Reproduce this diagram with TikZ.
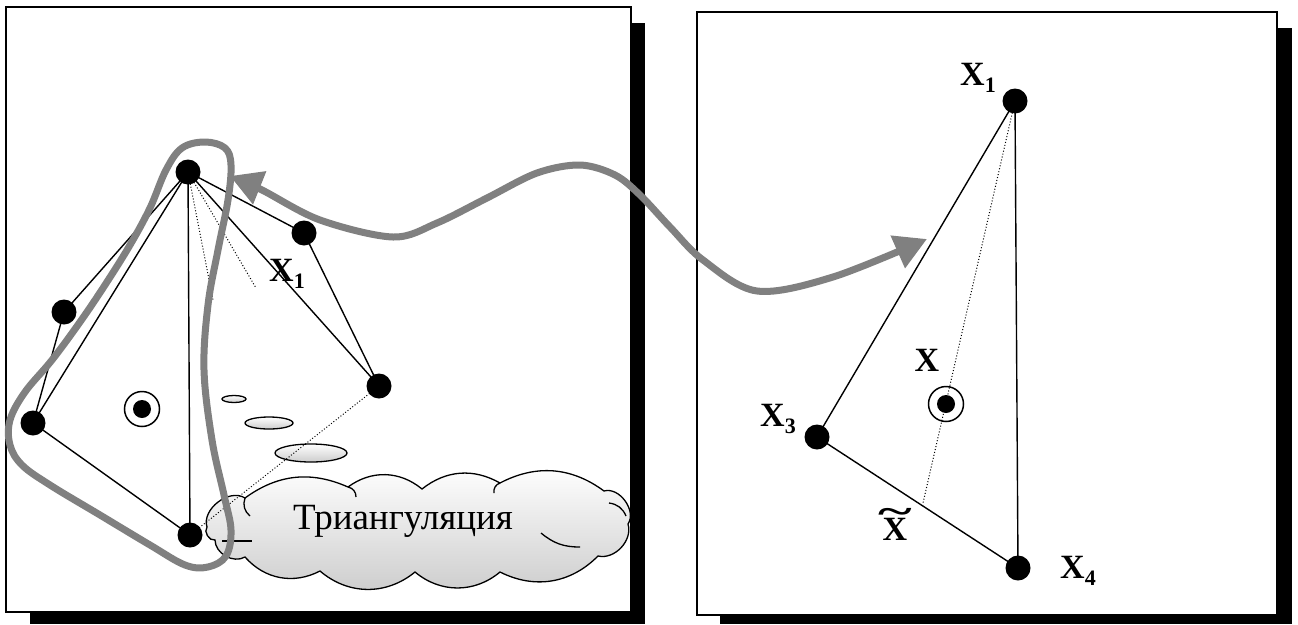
\documentclass[tikz,border=0pt]{standalone}
\usepackage{graphicx}
\usepackage{fontspec}
\setmainfont{Liberation Serif}
\usetikzlibrary{shapes.geometric,arrows.meta}

% bold X with a lowered subscript digit
\newcommand{\xsub}[1]{X\raisebox{-7pt}{\fontsize{22}{22}\selectfont #1}}
% bold X with a wide tilde above it
\newcommand{\xtilde}{\ooalign{X\cr\hidewidth\raisebox{0.5em}{\scalebox{1.9}[1.05]{\char"7E}}\hidewidth\cr}}

\tikzset{
  panel/.style={draw=black, line width=1.8pt, fill=white},
  panelshadow/.style={fill=black},
  vertex/.style={circle, fill=black, minimum size=25pt, inner sep=0pt},
  ring/.style={circle, draw=black, line width=1.5pt, minimum size=35pt, inner sep=0pt},
  core/.style={circle, fill=black, minimum size=18pt, inner sep=0pt},
  edge/.style={draw=black, line width=1.4pt},
  dotline/.style={draw=black, line width=1pt, dash pattern=on 1pt off 2pt},
  xlabel/.style={font=\fontsize{34}{34}\selectfont\bfseries, inner sep=0pt},
  bubble/.style={draw=black, line width=1.3pt, top color=white, bottom color=black!20},
  curl/.style={draw=black, line width=1.3pt},
  link/.style={draw=black!50, line width=7pt},
  hull/.style={draw=black!50, line width=7pt, line join=round},
}

\begin{document}
\begin{tikzpicture}[x=1pt, y=-1pt]
\useasboundingbox (0,0) rectangle (1298,624);

% panels with drop shadows
\fill[panelshadow] (30,23) rectangle (645,624);
\draw[panel] (6,7) rectangle (631,612);
\fill[panelshadow] (720,28) rectangle (1292,624);
\draw[panel] (697,12) rectangle (1277,615);

% thought bubbles
\node[bubble, ellipse, minimum width=24pt, minimum height=7pt, inner sep=0pt] (b1) at (234,399) {};
\node[bubble, ellipse, minimum width=48pt, minimum height=12pt, inner sep=0pt] (b2) at (269,423) {};
\node[bubble, ellipse, minimum width=72pt, minimum height=18pt, inner sep=0pt] (b3) at (311,453) {};

% cloud built from puffs
\path[bubble] (207,527)
  to[bend left=70] (245,498)
  to[bend left=30] (348,487)
  to[bend left=38] (422,489)
  to[bend left=34] (500,483)
  to[bend left=32] (604,491)
  to[bend left=70] (628,524)
  to[bend left=60] (598,556)
  to[bend left=36] (500,572)
  to[bend left=40] (415,572)
  to[bend left=40] (320,571)
  to[bend left=38] (245,557)
  to[bend left=60] (215,540)
  to[bend left=70] cycle;
% inner curls of the cloud
\draw[curl] (245,498) to[bend right=35] (250,516);
\draw[curl] (222,541) to (252,541);
\draw[curl] (348,487) to[bend left=40] (356,497);
\draw[curl] (500,483) to[bend right=40] (494,493);
\draw[curl] (541,533) to[bend right=20] (580,547);
\draw[curl] (609,503) to[bend left=30] (626,516);
\node[font=\fontsize{37}{37}\selectfont, inner sep=0pt] (cloudtext) at (403,521) {Триангуляция};

% left panel: triangulated point set
\node[vertex] (A) at (188,172) {};
\node[vertex] (B) at (304,233) {};
\node[vertex] (C) at (379,386) {};
\node[vertex] (D) at (64,312) {};
\node[vertex] (E) at (33,423) {};
\node[vertex] (F) at (190,535) {};
\coordinate (ray1) at (213,300);
\coordinate (ray2) at (256,288);

\draw[edge] (A.center) -- (D.center);
\draw[edge] (A.center) -- (E.center);
\draw[edge] (A.center) -- (F.center);
\draw[edge] (A.center) -- (B.center);
\draw[edge] (A.center) -- (C.center);
\draw[edge] (B.center) -- (C.center);
\draw[edge] (D.center) -- (E.center);
\draw[edge] (E.center) -- (F.center);
\draw[dotline] (A.center) -- (ray1);
\draw[dotline] (A.center) -- (ray2);
\draw[dotline] (C.center) -- (F.center);

\node[ring] (ql) at (142,409) {};
\node[core] (qlc) at (ql) {};
\node[xlabel] (lx1) at (287,274) {\xsub{1}};

% right panel: the selected triangle
\node[vertex] (X1) at (1015,101) {};
\node[vertex] (X3) at (817,437) {};
\node[vertex] (X4) at (1018,568) {};
\coordinate (Xt) at (923,503);
\draw[edge] (X1.center) -- (X3.center);
\draw[edge] (X1.center) -- (X4.center);
\draw[edge] (X3.center) -- (X4.center);
\draw[dotline] (X1.center) -- (Xt);
\node[ring] (qr) at (946,404) {};
\node[core] (qrc) at (qr) {};

\node[xlabel] (rx1) at (978,78) {\xsub{1}};
\node[xlabel] (rx) at (927,360) {X};
\node[xlabel] (rx3) at (778,419) {\xsub{3}};
\node[xlabel] (rxt) at (895,529) {\xtilde};
\node[xlabel] (rx4) at (1078,571) {\xsub{4}};

% link between the panels
\coordinate (linkL) at (230,176);
\coordinate (linkR) at (927,239);
\draw[link, {Triangle[length=32pt, width=34pt]}-{Triangle[length=32pt, width=34pt]}]
  plot[smooth, tension=0.55] coordinates {(linkL) (262,190) (320,220) (393,237) (437,223)
    (487,198) (537,173) (580,165) (615,175) (640,195) (670,227) (703,260) (757,291)
    (833,277) (linkR)};

% outline around the chosen triangle
\draw[hull] plot[smooth cycle, tension=0.6] coordinates {
  (205,142) (225,148) (231,165) (228,200) (218,250) (208,305) (204,370) (212,440)
  (224,495) (231,530) (226,556) (208,567) (185,565) (150,545) (100,515) (50,485)
  (22,465) (10,445) (10,420) (25,392) (52,360) (80,322) (105,285) (130,245)
  (150,208) (166,170) (182,148)};
\end{tikzpicture}
\end{document}
